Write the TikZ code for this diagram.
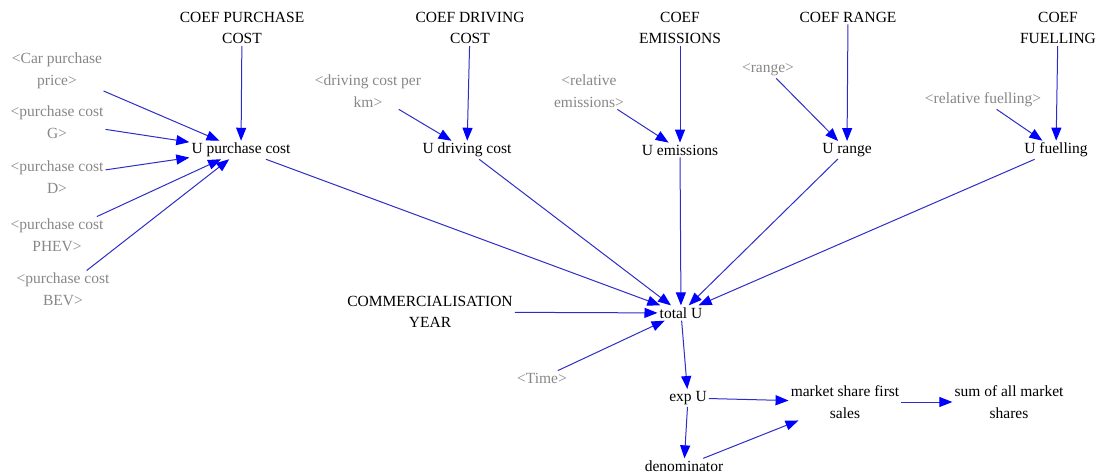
\documentclass[tikz,border=0pt]{standalone}
\usepackage{fontspec}
\setmainfont{Liberation Serif}
\usetikzlibrary{arrows.meta}
\definecolor{linkblue}{RGB}{45,45,200}
\definecolor{shadowgray}{RGB}{135,135,135}

\begin{document}
\begin{tikzpicture} [x=1pt, y=-1pt,
    var/.style={align=center, inner sep=2pt, font=\fontsize{15.5}{21.5}\selectfont},
    shadow/.style={var, text=shadowgray},
    link/.style={draw=linkblue, line width=1pt, -{Triangle[length=13pt, width=10pt, color=blue]}}]
    % Make a causal map from the coefficients and shadow variables to the market shares
    \useasboundingbox (0,0) rectangle (1098,476);

    \node (CPC) [var] at (242, 28) {COEF PURCHASE\\COST};
    \node (CDC) [var] at (470, 28) {COEF DRIVING\\COST};
    \node (CE) [var] at (680, 28) {COEF\\EMISSIONS};
    \node (CR) [var] at (848, 17) {COEF RANGE};
    \node (CF) [var] at (1058, 28) {COEF\\FUELLING};

    \node (CPP) [shadow] at (57, 71) {<Car purchase\\price>};
    \node (PCG) [shadow] at (57, 122) {<purchase cost\\G>};
    \node (PCD) [shadow] at (57, 177) {<purchase cost\\D>};
    \node (PCP) [shadow] at (57, 235) {<purchase cost\\PHEV>};
    \node (PCB) [shadow] at (63, 289) {<purchase cost\\BEV>};
    \node (DCK) [shadow] at (368, 91) {<driving cost per\\km>};
    \node (RE) [shadow] at (589, 91) {<relative\\emissions>};
    \node (RG) [shadow] at (768, 70) {<range>};
    \node (RF) [shadow] at (983, 100) {<relative fuelling>};
    \node (TM) [shadow] at (542, 378) {<Time>};

    \node (UPC) [var] at (241, 150) {U purchase cost};
    \node (UDC) [var] at (467, 150) {U driving cost};
    \node (UE) [var] at (680, 150) {U emissions};
    \node (UR) [var] at (847, 150) {U range};
    \node (UF) [var] at (1056, 150) {U fuelling};

    \node (CY) [var] at (430, 312) {COMMERCIALISATION\\YEAR};
    \node (TU) [var] at (681, 313) {total U};
    \node (EU) [var] at (688, 398) {exp U};
    \node (DEN) [var] at (684, 466) {denominator};
    \node (MS) [var] at (845, 402) {market share first\\sales};
    \node (SUM) [var] at (1009, 402) {sum of all market\\shares};

    \draw[link] (CPC) -- (UPC);
    \draw[link] (CPP) -- (UPC);
    \draw[link] (PCG) -- (UPC);
    \draw[link] (PCD) -- (UPC);
    \draw[link] (PCP) -- (UPC);
    \draw[link] (PCB) -- (UPC);
    \draw[link] (CDC) -- (UDC);
    \draw[link] (DCK) -- (UDC);
    \draw[link] (CE) -- (UE);
    \draw[link] (RE) -- (UE);
    \draw[link] (CR) -- (UR);
    \draw[link] (RG) -- (UR);
    \draw[link] (CF) -- (UF);
    \draw[link] (RF) -- (UF);

    \draw[link] (UPC) -- (TU);
    \draw[link] (UDC) -- (TU);
    \draw[link] (UE) -- (TU);
    \draw[link] (UR) -- (TU);
    \draw[link] (UF) -- (TU);
    \draw[link] (CY) -- (TU);
    \draw[link] (TM) -- (TU);

    \draw[link] (TU) -- (EU);
    \draw[link] (EU) -- (DEN);
    \draw[link] (EU) -- (MS);
    \draw[link] (DEN) -- (MS);
    \draw[link] (MS) -- (SUM);

\end{tikzpicture}
\end{document}
